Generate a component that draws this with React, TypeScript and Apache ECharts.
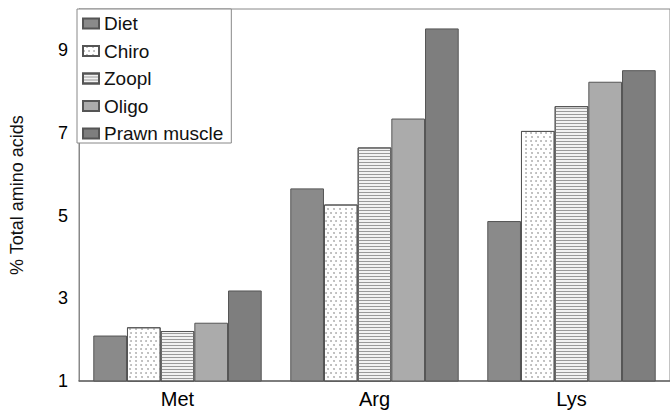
import React, { useEffect, useRef } from "react";
import * as echarts from "echarts";

const categories = ["Met", "Arg", "Lys"];
const seriesNames = ["Diet", "Chiro", "Zoopl", "Oligo", "Prawn muscle"];
const diet = [2.1, 5.66, 4.87];
const chiro = [2.3, 5.27, 7.05];
const zoopl = [2.21, 6.65, 7.65];
const oligo = [2.41, 7.35, 8.24];
const prawn = [3.19, 9.53, 8.52];
const yTickLabels = [1, 3, 5, 7, 9];

export default function App() {
  const ref = useRef<HTMLDivElement>(null);
  useEffect(() => {
    if (!ref.current) return;
    const chart = echarts.init(ref.current, null, { renderer: "svg" });
    const border = { borderColor: "#555", borderWidth: 1 };
    const values = [diet, chiro, zoopl, oligo, prawn];
    const styles: any[] = [
      { color: "#8a8a8a", ...border },
      {
        color: "#ffffff",
        ...border,
        decal: {
          symbol: "circle",
          symbolSize: 0.8,
          dashArrayX: [
            [2, 3],
            [0, 2.5, 2, 0.5],
          ],
          dashArrayY: [2, 1.5],
          color: "#a0a0a0",
        },
      },
      {
        color: "#f2f2f2",
        ...border,
        decal: {
          symbol: "rect",
          symbolSize: 1,
          dashArrayX: [1, 0],
          dashArrayY: [1, 2],
          rotation: 0,
          color: "#9a9a9a",
        },
      },
      { color: "#ababab", ...border },
      { color: "#7e7e7e", ...border },
    ];
    chart.setOption({
      animation: false,
      grid: {
        left: 77,
        top: 9,
        width: 600,
        bottom: 30,
        show: true,
        borderColor: "#888",
        borderWidth: 1,
      },
      legend: {
        orient: "vertical",
        left: 77,
        top: 9,
        data: seriesNames.map((name) => ({ name, icon: "rect" })),
        backgroundColor: "#fff",
        borderColor: "#888",
        borderWidth: 1,
        padding: [5, 8, 0, 5],
        itemGap: 8.5,
        itemWidth: 16,
        itemHeight: 10,
        textStyle: { fontSize: 19, color: "#111", fontFamily: "Liberation Sans" },
      },
      xAxis: {
        type: "category",
        data: categories,
        axisTick: { show: false },
        axisLine: { lineStyle: { color: "#666", width: 1.5 } },
        axisLabel: { fontSize: 20, color: "#000", margin: 8, fontFamily: "Liberation Sans" },
      },
      yAxis: {
        type: "value",
        min: 1,
        max: 10,
        interval: 1,
        name: "% Total amino acids",
        nameLocation: "middle",
        nameGap: 53,
        nameTextStyle: { fontSize: 18, color: "#111", fontFamily: "Liberation Sans" },
        axisLine: { show: true, lineStyle: { color: "#888", width: 1 } },
        axisTick: { show: false },
        splitLine: { show: false },
        axisLabel: {
          fontSize: 18,
          color: "#000",
          margin: 11,
          fontFamily: "Liberation Sans",
          formatter: (v: number) => (yTickLabels.includes(v) ? String(v) : ""),
        },
      },
      series: seriesNames.map((name, i) => ({
        name,
        type: "bar",
        data: values[i],
        barGap: "0%",
        barCategoryGap: "14.5%",
        itemStyle: styles[i],
      })),
    });
    return () => chart.dispose();
  }, []);
  return (
    <div
      ref={ref}
      style={{ position: "absolute", left: 0, top: 0, width: 670, height: 411 }}
    />
  );
}
